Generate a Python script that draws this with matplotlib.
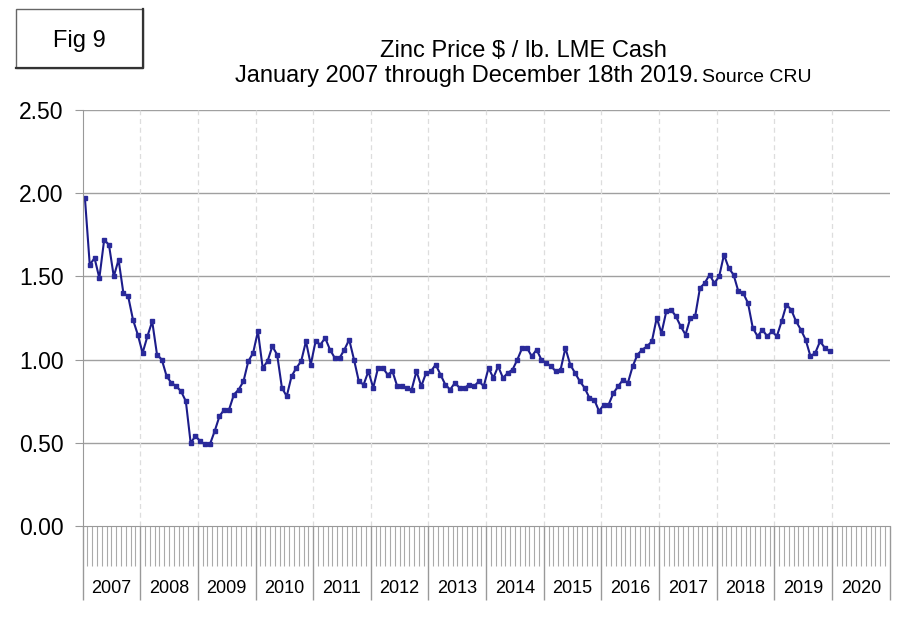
import matplotlib.pyplot as plt
import matplotlib.transforms as mtransforms
from matplotlib.patches import Rectangle

plt.rcParams['font.family'] = ['Liberation Sans', 'DejaVu Sans']

# monthly LME cash zinc price, $/lb, Jan 2007 - Dec 2019
price_2007 = [1.97, 1.57, 1.61, 1.49, 1.72, 1.69, 1.50, 1.60, 1.40, 1.38, 1.24, 1.15]
price_2008 = [1.04, 1.14, 1.23, 1.03, 1.00, 0.90, 0.86, 0.84, 0.81, 0.75, 0.50, 0.54]
price_2009 = [0.51, 0.49, 0.49, 0.57, 0.66, 0.70, 0.70, 0.79, 0.82, 0.87, 0.99, 1.04]
price_2010 = [1.17, 0.95, 0.99, 1.08, 1.03, 0.83, 0.78, 0.90, 0.95, 0.99, 1.11, 0.97]
price_2011 = [1.11, 1.09, 1.13, 1.06, 1.01, 1.01, 1.06, 1.12, 1.00, 0.87, 0.85, 0.93]
price_2012 = [0.83, 0.95, 0.95, 0.91, 0.93, 0.84, 0.84, 0.83, 0.82, 0.93, 0.84, 0.92]
price_2013 = [0.93, 0.97, 0.91, 0.85, 0.82, 0.86, 0.83, 0.83, 0.85, 0.84, 0.87, 0.84]
price_2014 = [0.95, 0.89, 0.96, 0.89, 0.92, 0.94, 1.00, 1.07, 1.07, 1.02, 1.06, 1.00]
price_2015 = [0.98, 0.96, 0.93, 0.94, 1.07, 0.97, 0.92, 0.87, 0.83, 0.77, 0.76, 0.69]
price_2016 = [0.73, 0.73, 0.80, 0.84, 0.88, 0.86, 0.96, 1.03, 1.06, 1.08, 1.11, 1.25]
price_2017 = [1.16, 1.29, 1.30, 1.26, 1.20, 1.15, 1.25, 1.26, 1.43, 1.46, 1.51, 1.46]
price_2018 = [1.50, 1.63, 1.55, 1.51, 1.41, 1.40, 1.34, 1.19, 1.14, 1.18, 1.14, 1.17]
price_2019 = [1.14, 1.23, 1.33, 1.30, 1.23, 1.18, 1.12, 1.02, 1.04, 1.11, 1.07, 1.05]

prices = (price_2007 + price_2008 + price_2009 + price_2010 + price_2011 + price_2012
          + price_2013 + price_2014 + price_2015 + price_2016 + price_2017 + price_2018
          + price_2019)
years = [str(y) for y in range(2007, 2021)]
y_ticks = [0.0, 0.5, 1.0, 1.5, 2.0, 2.5]

fig = plt.figure(figsize=(9.09, 6.22), dpi=100)
ax = fig.add_axes([0.0908, 0.1543, 0.888, 0.6688])

months = [i + 0.5 for i in range(len(prices))]
ax.plot(months, prices, color='#1c1c8a', lw=1.5, marker='s', ms=3.4, mfc='#2a2a9a', mec='#2a2a9a')

n_months = 12 * len(years)
ax.set_xlim(0, n_months)
ax.set_ylim(0, 2.5)

ax.set_yticks(y_ticks)
ax.set_yticklabels(['%.2f' % v for v in y_ticks], fontsize=16.5)
ax.tick_params(axis='y', direction='out', length=6, color='#999999', pad=7.5)

ax.set_xticks(range(0, n_months + 1, 12))
ax.set_xticks(range(n_months + 1), minor=True)
ax.set_xticklabels([])
ax.tick_params(axis='x', which='major', direction='out', length=53, color='#999999', width=1)
ax.tick_params(axis='x', which='minor', direction='out', length=29, color='#aaaaaa', width=0.8)

for s in ['top', 'right']:
    ax.spines[s].set_visible(False)
ax.spines['left'].set_color('#999999')
ax.spines['bottom'].set_color('#999999')

for v in y_ticks[1:]:
    ax.axhline(v, color='#a0a0a0', lw=1, zorder=0)
for k in range(12, n_months, 12):
    ax.axvline(k, color='#dddddd', lw=0.9, ls=(0, (4, 3)), zorder=0)

trans = mtransforms.blended_transform_factory(ax.transData, ax.transAxes)
for i, yr in enumerate(years):
    ax.text(12 * i + 6, -0.149, yr, transform=trans, ha='center', va='center', fontsize=13)

fig.text(0.5754, 0.9084, 'Zinc Price $ / lb. LME Cash', ha='center', va='baseline', fontsize=17)
fig.text(0.2585, 0.868, 'January 2007 through December 18th 2019.', ha='left', va='baseline', fontsize=17)
fig.text(0.7723, 0.868, 'Source CRU', ha='left', va='baseline', fontsize=14)

# "Fig 9" box with a darker bottom/right edge
fig.patches.append(Rectangle((0.0176, 0.8907), 0.1397, 0.0949, transform=fig.transFigure,
                             fill=False, ec='#666666', lw=1.0))
fig.lines.append(plt.Line2D([0.0176, 0.1573, 0.1573], [0.8907, 0.8907, 0.9856],
                            transform=fig.transFigure, color='#333333', lw=1.6))
fig.text(0.0869, 0.925, 'Fig 9', ha='center', va='baseline', fontsize=17)

fig.savefig('out.png', dpi=100)
